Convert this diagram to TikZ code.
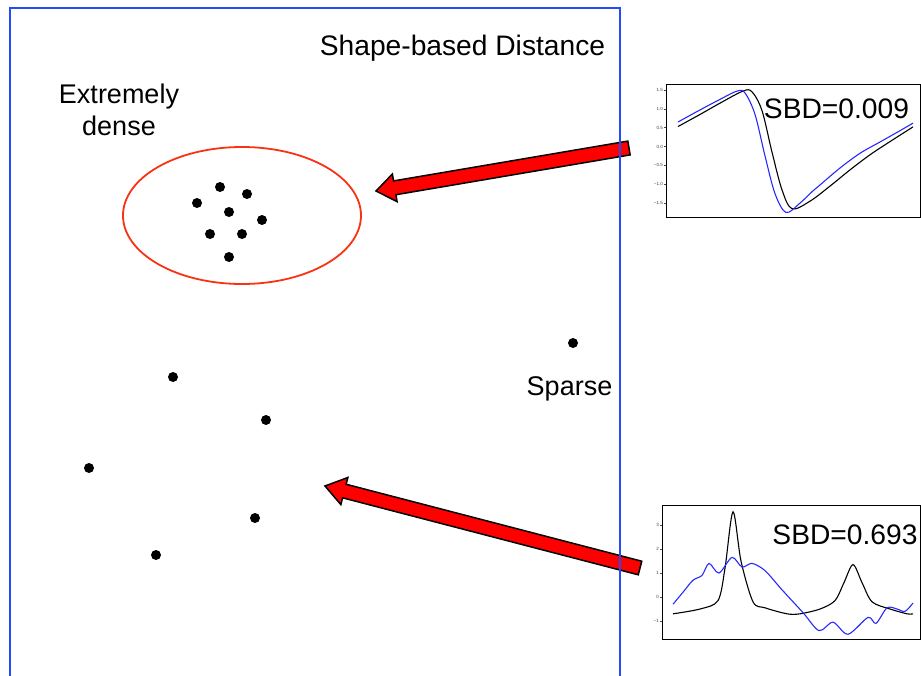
\documentclass[tikz,border=0pt]{standalone}
\usepackage{fontspec}
\setmainfont{Liberation Sans}
\usetikzlibrary{calc,shapes.geometric}
\definecolor{frameblue}{RGB}{35,75,250}
\definecolor{ellred}{RGB}{250,50,20}
\definecolor{plotblue}{RGB}{40,40,255}
\newcommand\fatarrow[3]{% tail, head, base
  \path[bigarrow] ($(#1)!7pt!90:(#2)$) -- ($(#3)!7pt!90:(#2)$) -- ($(#3)!14pt!90:(#2)$)
    -- (#2) -- ($(#3)!14pt!-90:(#2)$) -- ($(#3)!7pt!-90:(#2)$) -- ($(#1)!7pt!-90:(#2)$) -- cycle;}
\begin{document}
\begin{tikzpicture}[x=1pt,y=-1pt,
  lbl/.style={font=\fontsize{27}{32}\selectfont, inner sep=0pt, anchor=base},
  biglbl/.style={font=\fontsize{28.2}{32}\selectfont, inner sep=0pt, anchor=base},
  dot/.style={circle, fill=black, minimum size=10pt, inner sep=0pt},
  bigarrow/.style={fill=red, draw=black, line width=1.5pt, line join=miter},
  ticklbl/.style={font=\fontsize{4.5}{5}\selectfont, text=black!75, anchor=east, inner sep=1pt},
  axisbox/.style={draw=black, line width=1pt},
  curveblack/.style={black, line width=1.1pt},
  curveblue/.style={plotblue, line width=1.1pt}
]
\useasboundingbox (0,0) rectangle (921,675);

% texts
\node[biglbl] (title) at (462.5,55) {Shape-based Distance};
\node[lbl] (ext1) at (119,103) {Extremely};
\node[lbl] (ext2) at (119,135) {dense};
\node[lbl] (sparse) at (569.5,395) {Sparse};

% cluster
\node[draw=ellred, line width=1.8pt, ellipse, minimum width=238pt, minimum height=137pt, inner sep=0pt] (cluster) at (242,215.5) {};
\node[dot] (d1) at (220,187) {};
\node[dot] (d2) at (247,194) {};
\node[dot] (d3) at (197,203) {};
\node[dot] (d4) at (229,212) {};
\node[dot] (d5) at (262,220) {};
\node[dot] (d6) at (210,234) {};
\node[dot] (d7) at (242,234) {};
\node[dot] (d8) at (229,257) {};
% sparse dots
\node[dot] (s1) at (573,343) {};
\node[dot] (s2) at (173,377) {};
\node[dot] (s3) at (266,420) {};
\node[dot] (s4) at (89,468) {};
\node[dot] (s5) at (255,518) {};
\node[dot] (s6) at (156,555) {};

% arrows
\coordinate (a1t) at (629,148);
\coordinate (a1h) at (376,191);
\coordinate (a1b) at ($(a1h)!19pt!(a1t)$);
\fatarrow{a1t}{a1h}{a1b}
\coordinate (a2t) at (640,568);
\coordinate (a2h) at (325,486);
\coordinate (a2b) at ($(a2h)!20pt!(a2t)$);
\fatarrow{a2t}{a2h}{a2b}

% blue frame
\draw[frameblue, line width=2pt] (10,690) -- (10,8) -- (620,8) -- (620,690);

% plot 1
\draw[axisbox] (666,84) rectangle (920,217);
\begin{scope}[shift={(0,146.5)}, y=37.7pt]
  \foreach \v/\t in {1.5/1.5, 1.0/1.0, 0.5/0.5, 0.0/0.0, -0.5/−0.5, -1.0/−1.0, -1.5/−1.5}{
    \draw[black!70, line width=0.4pt] (666,\v) -- (664,\v);
    \node[ticklbl] at (664,\v) {\t};
  }
  \draw[curveblack] plot[smooth, tension=0.55] coordinates {(678,0.53) (700,0.85) (720,1.15) (743,1.47) (752,1.45) (762,0.95) (772,-0.15) (782,-1.15) (792,-1.65) (810,-1.45) (830,-1.05) (850,-0.62) (870,-0.22) (890,0.13) (913,0.52)};
  \draw[curveblue] plot[smooth, tension=0.55] coordinates {(678,0.65) (700,0.97) (720,1.25) (737,1.47) (745,1.42) (755,0.85) (765,-0.25) (775,-1.25) (786,-1.75) (800,-1.5) (812,-1.2) (820,-1.02) (840,-0.57) (860,-0.18) (880,0.12) (900,0.42) (913,0.62)};
\end{scope}
\node[biglbl] (sbd1) at (836.5,118) {SBD=0.009};

% plot 2
\draw[axisbox] (662,505) rectangle (920,639);
\begin{scope}[shift={(0,597)}, y=24pt]
  \foreach \v/\t in {3/3, 2/2, 1/1, 0/0, -1/−1}{
    \draw[black!70, line width=0.4pt] (662,\v) -- (660,\v);
    \node[ticklbl] at (660,\v) {\t};
  }
  \draw[curveblack] plot[smooth, tension=0.5] coordinates {(673,-0.7) (700,-0.5) (718,-0.15) (725,1.2) (733,3.55) (741,1.5) (753,-0.2) (765,-0.45) (787,-0.7) (800,-0.7) (820,-0.5) (835,-0.15) (844,0.6) (853,1.35) (862,0.6) (872,-0.2) (890,-0.5) (907,-0.7) (913,-0.7)};
  \draw[curveblue] plot[smooth, tension=0.5] coordinates {(673,-0.3) (683,0.2) (693,0.7) (702,0.9) (709,1.4) (719,1.0) (732,1.65) (742,1.25) (752,1.4) (765,1.1) (782,0.3) (803,-0.65) (819,-1.4) (833,-1.05) (848,-1.55) (868,-0.85) (876,-1.1) (887,-0.45) (897,-0.5) (905,-0.6) (913,-0.25)};
\end{scope}
\node[biglbl] (sbd2) at (845,544) {SBD=0.693};
\end{tikzpicture}
\end{document}
